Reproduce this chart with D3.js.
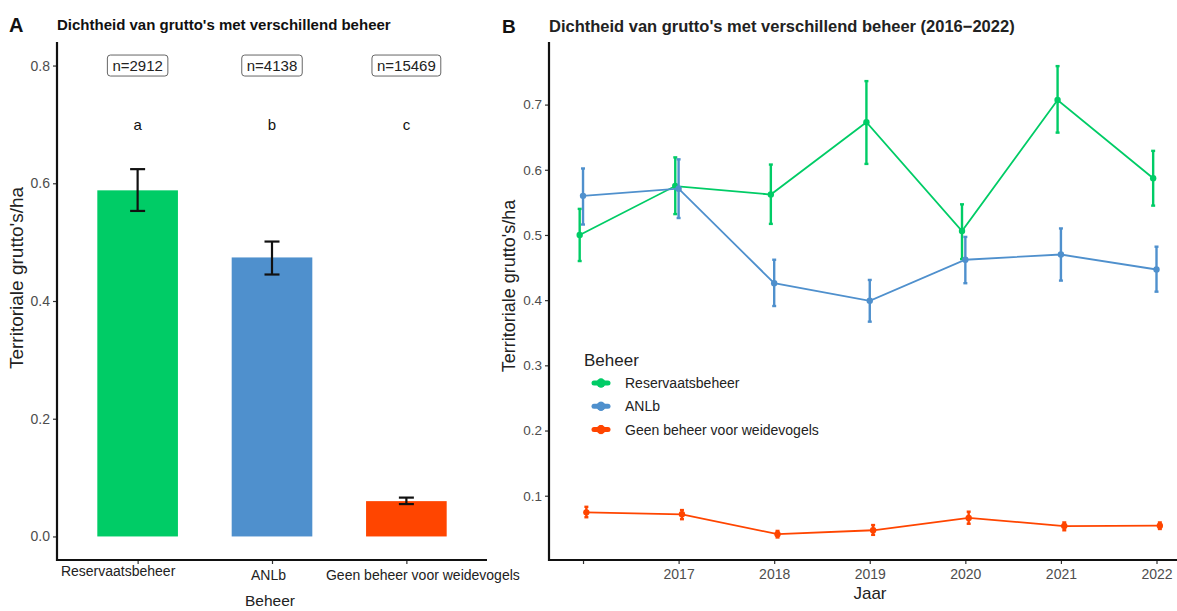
<!DOCTYPE html>
<html>
<head>
<meta charset="utf-8">
<script src="https://cdn.jsdelivr.net/npm/d3@7"></script>
<style>
  html, body { margin: 0; padding: 0; background: #fff; }
  svg { display: block; }
  text { font-family: "Liberation Sans", Arial, sans-serif; }
</style>
</head>
<body>
<svg id="chart" width="1177" height="611"></svg>
<script>
// ---- Panel A: mean density per management type ----
const beheerCats = ["Reservaatsbeheer", "ANLb", "Geen beheer voor weidevogels"];
const dichtheid   = [0.588, 0.474, 0.060];
const dichtheidLo = [0.553, 0.445, 0.055];
const dichtheidHi = [0.624, 0.501, 0.066];
const nLabels      = ["n=2912", "n=4138", "n=15469"];
const groepLetters = ["a", "b", "c"];
const ticksA = [0.0, 0.2, 0.4, 0.6, 0.8];

// ---- Panel B: density per year ----
const jaren = [2016, 2017, 2018, 2019, 2020, 2021, 2022];
const jaarTickLabels = ["", "2017", "2018", "2019", "2020", "2021", "2022"];
const reservaat   = [0.500, 0.575, 0.562, 0.673, 0.506, 0.707, 0.587];
const reservaatLo = [0.460, 0.532, 0.517, 0.609, 0.463, 0.657, 0.545];
const reservaatHi = [0.540, 0.619, 0.608, 0.736, 0.547, 0.759, 0.629];
const anlb   = [0.560, 0.571, 0.426, 0.399, 0.462, 0.470, 0.447];
const anlbLo = [0.516, 0.526, 0.391, 0.367, 0.426, 0.430, 0.413];
const anlbHi = [0.602, 0.616, 0.462, 0.431, 0.497, 0.510, 0.482];
const geen   = [0.0745, 0.0715, 0.041, 0.047, 0.066, 0.0535, 0.054];
const geenLo = [0.067, 0.064, 0.036, 0.040, 0.057, 0.047, 0.049];
const geenHi = [0.083, 0.078, 0.046, 0.055, 0.0755, 0.059, 0.059];
const ticksB = [0.1, 0.2, 0.3, 0.4, 0.5, 0.6, 0.7];

const kleuren = ["#00cc66", "#4f90cd", "#ff4500"];

const svg = d3.select("#chart");
const calibriLike = "Lato, 'Open Sans', sans-serif";

// ================= Panel A =================
const A = { left: 57, right: 487, top: 42, bottom: 560 };
const xA = d3.scalePoint().domain(beheerCats).range([A.left, A.right]).padding(0.6);
const yA = d3.scaleLinear().domain([-0.04, 0.84]).range([A.bottom, A.top]);
const barW = xA.step() * 0.6;

const gA = svg.append("g");

// bars
gA.selectAll("rect.bar").data(beheerCats).join("rect")
  .attr("class", "bar")
  .attr("x", d => xA(d) - barW / 2)
  .attr("width", barW)
  .attr("y", (d, i) => yA(dichtheid[i]))
  .attr("height", (d, i) => yA(0) - yA(dichtheid[i]))
  .attr("fill", (d, i) => kleuren[i]);

// error bars
const capA = 7.5;
const ebA = gA.selectAll("g.eb").data(beheerCats).join("g").attr("class", "eb")
  .attr("stroke", "#111").attr("stroke-width", 2.2).attr("fill", "none");
ebA.append("line").attr("x1", d => xA(d)).attr("x2", d => xA(d))
  .attr("y1", (d, i) => yA(dichtheidLo[i])).attr("y2", (d, i) => yA(dichtheidHi[i]));
ebA.append("line").attr("x1", d => xA(d) - capA).attr("x2", d => xA(d) + capA)
  .attr("y1", (d, i) => yA(dichtheidLo[i])).attr("y2", (d, i) => yA(dichtheidLo[i]));
ebA.append("line").attr("x1", d => xA(d) - capA).attr("x2", d => xA(d) + capA)
  .attr("y1", (d, i) => yA(dichtheidHi[i])).attr("y2", (d, i) => yA(dichtheidHi[i]));

// sample sizes in boxes at 0.8
const nG = gA.selectAll("g.n").data(beheerCats).join("g").attr("class", "n")
  .attr("transform", d => `translate(${xA(d)},${yA(0.8)})`);
nG.append("text").text((d, i) => nLabels[i])
  .attr("text-anchor", "middle").attr("dy", "0.36em")
  .attr("font-size", 15).attr("fill", "#222");
nG.each(function () {
  const t = d3.select(this).select("text").node().getBBox();
  d3.select(this).insert("rect", "text")
    .attr("x", t.x - 5).attr("y", -10.5).attr("width", t.width + 10).attr("height", 21)
    .attr("rx", 3).attr("fill", "#fff").attr("stroke", "#666").attr("stroke-width", 1);
});

// significance letters at 0.7
gA.selectAll("text.letter").data(beheerCats).join("text").attr("class", "letter")
  .attr("x", d => xA(d)).attr("y", yA(0.7)).attr("dy", "0.36em")
  .attr("text-anchor", "middle").attr("font-size", 15).attr("fill", "#111")
  .text((d, i) => groepLetters[i]);

// y axis
const axYA = gA.append("g").attr("transform", `translate(${A.left},0)`)
  .call(d3.axisLeft(yA).tickValues(ticksA).tickSize(4).tickPadding(3).tickFormat(d3.format(".1f")));
axYA.select(".domain").remove();
axYA.selectAll(".tick line").attr("stroke", "#333").attr("stroke-width", 1.2);
axYA.selectAll(".tick text").attr("font-size", 14).attr("fill", "#4d4d4d")
  .attr("font-family", "Liberation Sans, Arial, sans-serif");

// x axis (category labels sit slightly off-centre)
const labelNudge = [[-20, -4], [-4, 0], [16, 0]];
const axXA = gA.append("g").attr("transform", `translate(0,${A.bottom})`)
  .call(d3.axisBottom(xA).tickSize(4).tickPadding(6));
axXA.select(".domain").remove();
axXA.selectAll(".tick line").attr("stroke", "#333").attr("stroke-width", 1.2);
axXA.selectAll(".tick text").attr("font-size", 14).attr("fill", "#222")
  .attr("font-family", calibriLike)
  .attr("transform", (d, i) => `translate(${labelNudge[i][0]},${labelNudge[i][1]})`);

// axis lines
gA.append("path").attr("d", `M${A.left},${A.top}V${A.bottom}H${A.right}`)
  .attr("fill", "none").attr("stroke", "#111").attr("stroke-width", 2.2);

// titles
gA.append("text").attr("x", 270).attr("y", 606).attr("text-anchor", "middle")
  .attr("font-size", 15.5).attr("fill", "#222").attr("font-family", calibriLike)
  .text("Beheer");
gA.append("text").attr("transform", `translate(23,278) rotate(-90)`)
  .attr("text-anchor", "middle").attr("font-size", 19).attr("fill", "#222")
  .text("Territoriale grutto's/ha");
gA.append("text").attr("x", 9).attr("y", 32).attr("font-size", 20).attr("font-weight", "bold")
  .attr("fill", "#111").text("A");
gA.append("text").attr("x", 57).attr("y", 30).attr("font-size", 15).attr("font-weight", "bold")
  .attr("fill", "#111").text("Dichtheid van grutto's met verschillend beheer");

// ================= Panel B =================
const B = { left: 549, right: 1189, top: 42, bottom: 560 };
const xB = d3.scaleLinear().domain([2015.644, 2022.34]).range([B.left, B.right]);
const yB = d3.scaleLinear().domain([0.0014, 0.796]).range([B.bottom, B.top]);

const gB = svg.append("g");

const reeksen = [
  { naam: "Reservaatsbeheer", v: reservaat, lo: reservaatLo, hi: reservaatHi, kleur: kleuren[0], dodge: -0.035 },
  { naam: "ANLb", v: anlb, lo: anlbLo, hi: anlbHi, kleur: kleuren[1], dodge: 0 },
  { naam: "Geen beheer voor weidevogels", v: geen, lo: geenLo, hi: geenHi, kleur: kleuren[2], dodge: 0.035 }
];

// y axis
const axYB = gB.append("g").attr("transform", `translate(${B.left},0)`)
  .call(d3.axisLeft(yB).tickValues(ticksB).tickSize(4).tickPadding(3).tickFormat(d3.format(".1f")));
axYB.select(".domain").remove();
axYB.selectAll(".tick line").attr("stroke", "#333").attr("stroke-width", 1.2);
axYB.selectAll(".tick text").attr("font-size", 13.5).attr("fill", "#4d4d4d")
  .attr("font-family", "Liberation Sans, Arial, sans-serif");

// x axis
const axXB = gB.append("g").attr("transform", `translate(0,${B.bottom})`)
  .call(d3.axisBottom(xB).tickValues(jaren).tickSize(4).tickPadding(5)
    .tickFormat((d, i) => jaarTickLabels[i]));
axXB.select(".domain").remove();
axXB.selectAll(".tick line").attr("stroke", "#333").attr("stroke-width", 1.2);
axXB.selectAll(".tick text").attr("font-size", 14).attr("fill", "#4d4d4d")
  .attr("font-family", "Liberation Sans, Arial, sans-serif");

gB.append("path").attr("d", `M${B.left},${B.top}V${B.bottom}H${B.right}`)
  .attr("fill", "none").attr("stroke", "#111").attr("stroke-width", 2.2);

// series: line, error bars, points (dodged per series)
const capB = 2;
reeksen.forEach(r => {
  const g = gB.append("g");
  const px = i => xB(jaren[i] + r.dodge);
  g.append("path")
    .datum(jaren)
    .attr("d", d3.line().x((d, i) => px(i)).y((d, i) => yB(r.v[i])))
    .attr("fill", "none").attr("stroke", r.kleur).attr("stroke-width", 1.8);
  const eb = g.selectAll("g.e").data(jaren).join("g")
    .attr("stroke", r.kleur).attr("stroke-width", 2.4).attr("fill", "none");
  eb.append("line").attr("x1", (d, i) => px(i)).attr("x2", (d, i) => px(i))
    .attr("y1", (d, i) => yB(r.lo[i])).attr("y2", (d, i) => yB(r.hi[i]));
  eb.append("line").attr("x1", (d, i) => px(i) - capB).attr("x2", (d, i) => px(i) + capB)
    .attr("y1", (d, i) => yB(r.lo[i])).attr("y2", (d, i) => yB(r.lo[i]));
  eb.append("line").attr("x1", (d, i) => px(i) - capB).attr("x2", (d, i) => px(i) + capB)
    .attr("y1", (d, i) => yB(r.hi[i])).attr("y2", (d, i) => yB(r.hi[i]));
  g.selectAll("circle").data(jaren).join("circle")
    .attr("cx", (d, i) => px(i)).attr("cy", (d, i) => yB(r.v[i])).attr("r", 3.2)
    .attr("fill", r.kleur);
});

// legend
const leg = gB.append("g").attr("transform", "translate(584,0)");
leg.append("text").attr("x", 0).attr("y", 366).attr("font-size", 17).attr("fill", "#222")
  .attr("font-family", calibriLike).text("Beheer");
const legItems = leg.selectAll("g.li").data(reeksen).join("g").attr("class", "li")
  .attr("transform", (d, i) => `translate(0,${383 + i * 23.3})`);
legItems.append("line").attr("x1", 10).attr("x2", 24).attr("y1", 0).attr("y2", 0)
  .attr("stroke", d => d.kleur).attr("stroke-width", 5).attr("stroke-linecap", "round");
legItems.append("line").attr("x1", 17).attr("x2", 17).attr("y1", -4.5).attr("y2", 4.5)
  .attr("stroke", d => d.kleur).attr("stroke-width", 3);
legItems.append("circle").attr("cx", 17).attr("cy", 0).attr("r", 4.5).attr("fill", d => d.kleur);
legItems.append("text").attr("x", 41).attr("y", 0).attr("dy", "0.35em")
  .attr("font-size", 14).attr("fill", "#222")
  .attr("font-family", calibriLike).text(d => d.naam);

// titles
gB.append("text").attr("x", 870).attr("y", 599).attr("text-anchor", "middle")
  .attr("font-size", 17).attr("fill", "#222").text("Jaar");
gB.append("text").attr("transform", `translate(515,286) rotate(-90)`)
  .attr("text-anchor", "middle").attr("font-size", 18).attr("fill", "#222")
  .text("Territoriale grutto's/ha");
gB.append("text").attr("x", 502).attr("y", 33).attr("font-size", 19).attr("font-weight", "bold")
  .attr("fill", "#111").text("B");
gB.append("text").attr("x", 549).attr("y", 32).attr("font-size", 16.5).attr("font-weight", "bold")
  .attr("fill", "#222").text("Dichtheid van grutto's met verschillend beheer (2016\u22122022)");
</script>
</body>
</html>
